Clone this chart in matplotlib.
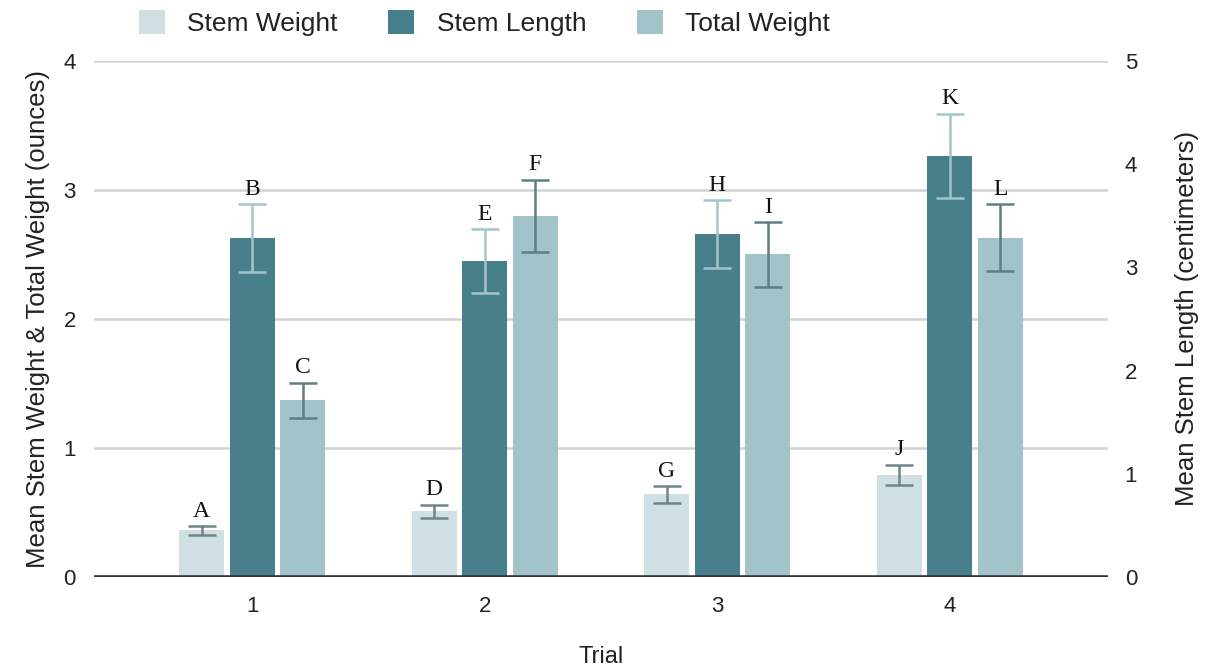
import matplotlib.pyplot as plt
import numpy as np

plt.rcParams['font.family'] = ['Liberation Sans', 'DejaVu Sans']

trials = ['1', '2', '3', '4']

# ounces (left axis)
stem_weight = [0.36, 0.51, 0.64, 0.79]
stem_weight_err = [0.037, 0.05, 0.065, 0.08]
total_weight = [1.37, 2.80, 2.50, 2.63]
total_weight_err = [0.136, 0.28, 0.25, 0.26]

# centimeters (right axis)
stem_length = [3.28, 3.06, 3.32, 4.08]
stem_length_err = [0.33, 0.31, 0.33, 0.41]

letters_sw = ['A', 'D', 'G', 'J']
letters_sl = ['B', 'E', 'H', 'K']
letters_tw = ['C', 'F', 'I', 'L']

c_sw = '#d0dfe3'
c_sl = '#477f8a'
c_tw = '#a2c3c9'

fig = plt.figure(figsize=(12.05, 6.7), dpi=100)
ax = fig.add_axes([0.078, 0.139, 0.8415, 0.770])
ax2 = ax.twinx()

x = np.arange(1, len(trials) + 1)
w = 0.193
step = 0.217

b1 = ax.bar(x - step, stem_weight, w, color=c_sw, zorder=2, label='Stem Weight')
ax.errorbar(x - step, stem_weight, yerr=stem_weight_err, fmt='none',
            ecolor='#6e8589', elinewidth=1.8, capsize=10, capthick=1.8, zorder=3)
b3 = ax.bar(x + step, total_weight, w, color=c_tw, zorder=2, label='Total Weight')
ax.errorbar(x + step, total_weight, yerr=total_weight_err, fmt='none',
            ecolor='#5f7d82', elinewidth=1.8, capsize=10, capthick=1.8, zorder=3)

b2 = ax2.bar(x, stem_length, w, color=c_sl, zorder=2, label='Stem Length')
ax2.errorbar(x, stem_length, yerr=stem_length_err, fmt='none',
             ecolor='#a3c5cb', elinewidth=1.8, capsize=10, capthick=1.8, zorder=3)

# significance letters above the error bars
lfont = dict(family='Liberation Serif', fontsize=17, color='#111111',
             ha='center', va='bottom')
for i in range(len(trials)):
    ax.annotate(letters_sw[i], (x[i] - step, stem_weight[i] + stem_weight_err[i]),
                xytext=(0, 3), textcoords='offset points', **lfont)
    ax.annotate(letters_tw[i], (x[i] + step, total_weight[i] + total_weight_err[i]),
                xytext=(0, 3), textcoords='offset points', **lfont)
    ax2.annotate(letters_sl[i], (x[i], stem_length[i] + stem_length_err[i]),
                 xytext=(0, 3), textcoords='offset points', **lfont)

ax.set_xlim(0.32, 4.68)
ax.set_ylim(0, 4)
ax2.set_ylim(0, 5)
ax.set_yticks([0, 1, 2, 3, 4])
ax2.set_yticks([0, 1, 2, 3, 4, 5])
ax.set_xticks(x)
ax.set_xticklabels(trials)

ax.grid(axis='y', color='#d3d3d3', linewidth=1.8, zorder=0)
ax.set_axisbelow(True)
for a in (ax, ax2):
    for s in ['top', 'left', 'right', 'bottom']:
        a.spines[s].set_visible(False)
    a.tick_params(length=0, labelsize=16, colors='#222222')
ax2.axhline(0, color='#333333', linewidth=2.6, zorder=4)
ax.tick_params(axis='y', pad=13)
ax.tick_params(axis='x', pad=14)
ax2.tick_params(axis='y', pad=12)

ax.set_ylabel('Mean Stem Weight & Total Weight (ounces)', fontsize=18.5,
              color='#222222', labelpad=10)
ax2.set_ylabel('Mean Stem Length (centimeters)', fontsize=18.5,
               color='#222222', labelpad=27)
ax.set_xlabel('Trial', fontsize=17, color='#222222', labelpad=21)

fig.legend([b1, b2, b3], ['Stem Weight', 'Stem Length', 'Total Weight'],
           loc='upper center', bbox_to_anchor=(0.402, 1.02), ncol=3,
           frameon=False, fontsize=19, handlelength=1.0, handleheight=1.0,
           handletextpad=0.85, columnspacing=1.9, labelcolor='#222222')

fig.savefig('out.png', dpi=100)
